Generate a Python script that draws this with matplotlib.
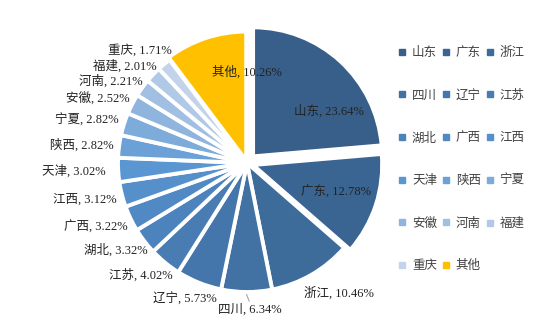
import numpy as np
import matplotlib
matplotlib.use("Agg")
import matplotlib.pyplot as plt
import matplotlib.transforms as mtransforms
from matplotlib.lines import Line2D

categories = ["山东", "广东", "浙江", "四川", "辽宁", "江苏", "湖北", "广西", "江西",
              "天津", "陕西", "宁夏", "安徽", "河南", "福建", "重庆", "其他"]
shares = [23.64, 12.78, 10.46, 6.34, 5.73, 4.02, 3.32, 3.22, 3.12,
          3.02, 2.82, 2.82, 2.52, 2.21, 2.01, 1.71, 10.26]

colors = ["#375F8A", "#3A6592", "#3D6B9A", "#4271A4", "#4576AB", "#487CB3", "#4C83BC",
          "#5089C4", "#5590CB", "#5A97D2", "#6BA1D6", "#7DABDA", "#8FB5DE", "#A0BFE2",
          "#B1C9E6", "#C2D3EA", "#FFC000"]
explode = [0.07, 0.05, 0.0, 0.0, 0.0, 0.0, 0.0, 0.0, 0.0, 0.0, 0.0, 0.0, 0.0, 0.0, 0.0, 0.0, 0.02]

# label placement style: (radius, ha, dx_px, dy_px)
label_style = [
    (0.74, "center", 11, 25), (0.74, "center", -8, -2), (1.1, "left", -14, 7),
    (1.1, "center", 3, 5), (1.1, "center", -9, 5), (1.1, "right", 16, 3),
    (1.1, "right", 13, 1), (1.1, "right", 9, 3), (1.1, "right", 7, 2),
    (1.1, "right", 0, 0), (1.1, "right", 7, 0), (1.1, "right", 7, 0),
    (1.1, "right", 9, 0), (1.1, "right", 11, 1), (1.1, "right", 13, 0),
    (1.1, "right", 16, -4), (0.72, "center", 30, 0),
]

W, H = 550, 326
fig = plt.figure(figsize=(W / 100, H / 100), dpi=100)
cx, cy, R = 247, 163, 129
lim = 1.25
ax = fig.add_axes([(cx - lim * R) / W, (H - cy - lim * R) / H, 2 * lim * R / W, 2 * lim * R / H])
ax.set_xlim(-lim, lim)
ax.set_ylim(-lim, lim)
ax.set_aspect("equal")
ax.axis("off")

wedges, _ = ax.pie(shares, colors=colors, startangle=90, counterclock=False,
                   explode=explode, radius=1.0,
                   wedgeprops=dict(edgecolor="white", linewidth=2.8))

fontfam = ["Liberation Serif", "Noto Sans CJK SC"]
for i, w in enumerate(wedges):
    ang = np.deg2rad((w.theta1 + w.theta2) / 2)
    r, ha, dx, dy = label_style[i]
    ox = explode[i] * np.cos(ang)
    oy = explode[i] * np.sin(ang)
    x = r * np.cos(ang) + ox
    y = r * np.sin(ang) + oy
    tr = ax.transData + mtransforms.ScaledTranslation(dx / 100, -dy / 100, fig.dpi_scale_trans)
    ax.text(x, y, f"{categories[i]}, {shares[i]:.2f}%", ha=ha, va="center",
            fontsize=9.0, family=fontfam, color="#222222", transform=tr)

# leader line for 四川
w = wedges[3]
ang = np.deg2rad((w.theta1 + w.theta2) / 2)
ax.plot([1.02 * np.cos(ang), 1.07 * np.cos(ang) + 0.02], [1.02 * np.sin(ang), 1.07 * np.sin(ang)],
        color="#A6A6A6", lw=0.8)

handles = [Line2D([], [], marker="s", linestyle="none", markersize=5,
                  markerfacecolor=c, markeredgecolor=c) for c in colors]
ncol = 3
nrow = int(np.ceil(len(categories) / ncol))
order = []
for c in range(ncol):
    for r in range(nrow):
        idx = r * ncol + c
        if idx < len(categories):
            order.append(idx)
leg = fig.legend([handles[i] for i in order], [categories[i] for i in order],
                 ncol=ncol, loc="upper left", bbox_to_anchor=(392 / W, 1 - 42 / H),
                 frameon=False, prop={"family": fontfam, "size": 9},
                 handlelength=0.8, handletextpad=0.4, columnspacing=0.3,
                 labelspacing=2.45, labelcolor="#404040", borderaxespad=0)

fig.savefig("out.png", dpi=100)
